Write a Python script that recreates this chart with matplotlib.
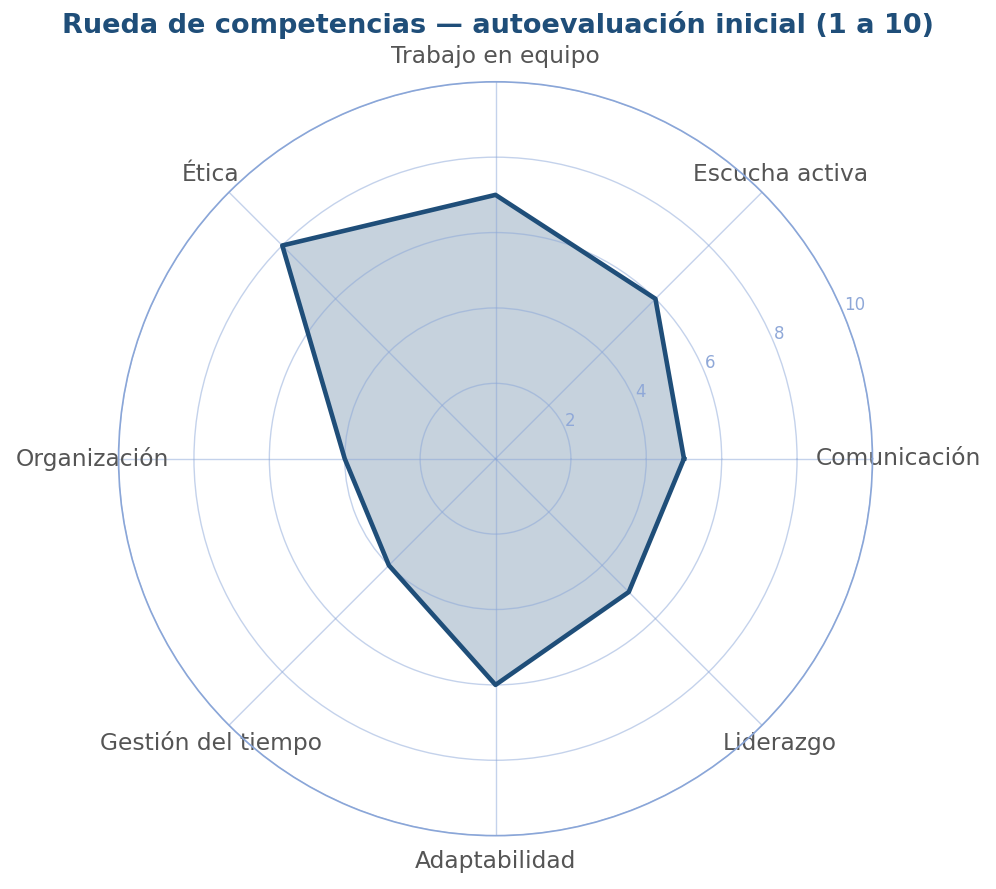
import numpy as np
import matplotlib
matplotlib.use("Agg")
import matplotlib.pyplot as plt

categories = ["Comunicación", "Escucha activa", "Trabajo en equipo", "Ética",
              "Organización", "Gestión del tiempo", "Adaptabilidad", "Liderazgo"]
values = [5, 6, 7, 8, 4, 4, 6, 5]
rticks = [2, 4, 6, 8, 10]

main = "#1f4e79"
fig = plt.figure(figsize=(9.96, 8.89), dpi=100)
ax = fig.add_axes([0.119, 0.06, 0.757, 0.848], projection="polar")

n = len(categories)
angles = np.arange(n) * 2 * np.pi / n
a_closed = np.concatenate([angles, angles[:1]])
v_closed = values + values[:1]

ax.fill(a_closed, v_closed, color=main, alpha=0.25, zorder=1)
ax.plot(a_closed, v_closed, color=main, linewidth=3.3, zorder=3)

ax.set_ylim(0, 10)
ax.set_yticks(rticks)
ax.set_yticklabels([str(t) for t in rticks], color="#8fa8d8", fontsize=12)
ax.set_rlabel_position(22.5)
ax.set_xticks(angles)
ax.set_xticklabels(categories, color="#555555", fontsize=16.8)
ax.tick_params(axis="x", pad=8)
ax.grid(color="#8aa6d8", alpha=0.5, linewidth=1.0)
ax.spines["polar"].set_color("#8aa6d8")
ax.spines["polar"].set_linewidth(1.2)

fig.suptitle("Rueda de competencias — autoevaluación inicial (1 a 10)",
             fontsize=19.5, fontweight="bold", color=main, y=0.988)

fig.savefig("out.png", dpi=100)
